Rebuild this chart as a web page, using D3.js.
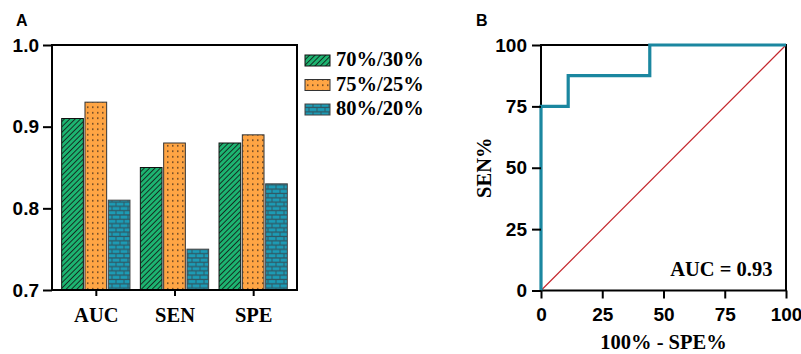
<!DOCTYPE html>
<html>
<head>
<meta charset="utf-8">
<script src="https://cdn.jsdelivr.net/npm/d3@7"></script>
<style>
  body { margin: 0; background: #fff; }
  svg { display: block; }
  .sans { font-family: "Liberation Sans", Arial, sans-serif; font-weight: bold; }
  .serif { font-family: "Liberation Serif", "Times New Roman", serif; font-weight: bold; }
</style>
</head>
<body>
<div id="chart"></div>
<script>
// panel A data
const categories = ['AUC', 'SEN', 'SPE'];
const splits = ['70%/30%', '75%/25%', '80%/20%'];
const values7030 = [0.91, 0.85, 0.88];
const values7525 = [0.93, 0.88, 0.89];
const values8020 = [0.81, 0.75, 0.83];
const yTicksA = [0.7, 0.8, 0.9, 1.0];

// panel B data (ROC curve, 100% - SPE% vs SEN%)
const rocFpr = [0, 0, 11.1, 11.1, 44.4, 44.4, 100];
const rocTpr = [0, 75, 75, 87.5, 87.5, 100, 100];
const ticksB = [0, 25, 50, 75, 100];
const aucText = 'AUC = 0.93';

const width = 801;
const height = 354;
const serifSize = 20.5;
const sansSize = 19;

const svg = d3.select('#chart').append('svg')
  .attr('width', width)
  .attr('height', height);

const defs = svg.append('defs');

// diagonal hatch (green)
const hatch = defs.append('pattern')
  .attr('id', 'hatch')
  .attr('patternUnits', 'userSpaceOnUse')
  .attr('width', 3.8).attr('height', 3.8)
  .attr('patternTransform', 'rotate(45)');
hatch.append('rect').attr('width', 3.8).attr('height', 3.8).attr('fill', '#1db471');
hatch.append('line').attr('x1', 0).attr('y1', 0).attr('x2', 0).attr('y2', 3.8)
  .attr('stroke', '#111').attr('stroke-width', 1.6);

// dots (orange)
const dots = defs.append('pattern')
  .attr('id', 'dots')
  .attr('patternUnits', 'userSpaceOnUse')
  .attr('width', 5).attr('height', 5.5);
dots.append('rect').attr('width', 5).attr('height', 5.5).attr('fill', '#ffa544');
dots.append('rect').attr('x', 2).attr('y', 2).attr('width', 1.5).attr('height', 1.5).attr('fill', '#5a3d22');

// bricks (blue)
const bricks = defs.append('pattern')
  .attr('id', 'bricks')
  .attr('patternUnits', 'userSpaceOnUse')
  .attr('width', 8).attr('height', 8.6);
bricks.append('rect').attr('width', 8).attr('height', 8.6).attr('fill', '#2f5a66');
bricks.append('rect').attr('x', 0.5).attr('y', 0.6).attr('width', 7).attr('height', 3).attr('fill', '#1c9cb6');
bricks.append('rect').attr('x', -3.5).attr('y', 4.9).attr('width', 7).attr('height', 3).attr('fill', '#1c9cb6');
bricks.append('rect').attr('x', 4.5).attr('y', 4.9).attr('width', 7).attr('height', 3).attr('fill', '#1c9cb6');

const fills = ['url(#hatch)', 'url(#dots)', 'url(#bricks)'];
const strokes = ['#111', '#333', '#444'];

// ---------- Panel A ----------
const ax = { left: 52, right: 297, top: 45, bottom: 290 };
const seriesA = [values7030, values7525, values8020];

const x0 = d3.scaleBand().domain(categories).range([ax.left, ax.right])
  .paddingInner(0.132).paddingOuter(0.123);
const x1 = d3.scaleBand().domain(splits).range([0, x0.bandwidth()]).paddingInner(0.07);
const yA = d3.scaleLinear().domain([0.7, 1.0]).range([ax.bottom, ax.top]);

const gA = svg.append('g');

categories.forEach((cat, ci) => {
  splits.forEach((s, si) => {
    const v = seriesA[si][ci];
    gA.append('rect')
      .attr('x', x0(cat) + x1(s))
      .attr('y', yA(v))
      .attr('width', x1.bandwidth())
      .attr('height', yA(0.7) - yA(v))
      .attr('fill', fills[si])
      .attr('stroke', strokes[si])
      .attr('stroke-width', 1);
  });
});

gA.append('rect')
  .attr('x', ax.left).attr('y', ax.top)
  .attr('width', ax.right - ax.left).attr('height', ax.bottom - ax.top)
  .attr('fill', 'none').attr('stroke', '#000').attr('stroke-width', 2);

const yAxisA = gA.append('g')
  .attr('transform', `translate(${ax.left},0)`)
  .call(d3.axisLeft(yA).tickValues(yTicksA).tickFormat(d3.format('.1f')).tickSize(9).tickPadding(4));
yAxisA.select('.domain').remove();
yAxisA.selectAll('.tick line').attr('stroke-width', 2);
yAxisA.selectAll('.tick text').attr('class', 'sans').attr('font-size', sansSize).attr('fill', '#000');

const xAxisA = gA.append('g')
  .attr('transform', `translate(0,${ax.bottom})`)
  .call(d3.axisBottom(d3.scalePoint().domain(categories)
    .range([x0(categories[0]) + x0.bandwidth() / 2, x0(categories[2]) + x0.bandwidth() / 2]))
    .tickSize(6).tickPadding(11));
xAxisA.select('.domain').remove();
xAxisA.selectAll('.tick line').attr('stroke-width', 2);
xAxisA.selectAll('.tick text').attr('class', 'serif').attr('font-size', serifSize).attr('fill', '#000');

svg.append('text').attr('class', 'sans').attr('x', 16).attr('y', 26)
  .attr('font-size', 16).text('A');

// legend
const legend = svg.append('g').attr('transform', 'translate(305,0)');
splits.forEach((s, i) => {
  const base = 66 + i * 24.5;
  legend.append('rect')
    .attr('x', 0).attr('y', base - 11)
    .attr('width', 25).attr('height', 11)
    .attr('fill', fills[i]).attr('stroke', strokes[i]).attr('stroke-width', 1);
  legend.append('text').attr('class', 'serif')
    .attr('x', 31).attr('y', base)
    .attr('font-size', serifSize).text(s);
});

// ---------- Panel B ----------
const bx = { left: 541, right: 786, top: 45, bottom: 290.5 };
const xB = d3.scaleLinear().domain([0, 100]).range([bx.left, bx.right]);
const yB = d3.scaleLinear().domain([0, 100]).range([bx.bottom, bx.top]);

const gB = svg.append('g');

gB.append('line')
  .attr('x1', xB(0)).attr('y1', yB(0))
  .attr('x2', xB(100)).attr('y2', yB(100))
  .attr('stroke', '#c4262c').attr('stroke-width', 1.2);

gB.append('rect')
  .attr('x', bx.left).attr('y', bx.top)
  .attr('width', bx.right - bx.left).attr('height', bx.bottom - bx.top)
  .attr('fill', 'none').attr('stroke', '#000').attr('stroke-width', 2);

const rocLine = d3.line()
  .x((d, i) => xB(rocFpr[i]))
  .y((d, i) => yB(rocTpr[i]));

gB.append('path')
  .attr('d', rocLine(rocFpr))
  .attr('fill', 'none')
  .attr('stroke', '#1b87a0')
  .attr('stroke-width', 3.2)
  .attr('stroke-linejoin', 'miter');

const yAxisB = gB.append('g')
  .attr('transform', `translate(${bx.left},0)`)
  .call(d3.axisLeft(yB).tickValues(ticksB).tickSize(9).tickPadding(5));
yAxisB.select('.domain').remove();
yAxisB.selectAll('.tick line').attr('stroke-width', 2);
yAxisB.selectAll('.tick text').attr('class', 'sans').attr('font-size', sansSize).attr('fill', '#000');

const xAxisB = gB.append('g')
  .attr('transform', `translate(0,${bx.bottom})`)
  .call(d3.axisBottom(xB).tickValues(ticksB).tickSize(8).tickPadding(9.5));
xAxisB.select('.domain').remove();
xAxisB.selectAll('.tick line').attr('stroke-width', 2);
xAxisB.selectAll('.tick text').attr('class', 'sans').attr('font-size', sansSize).attr('fill', '#000');

svg.append('text').attr('class', 'serif')
  .attr('x', 772.5).attr('y', 276)
  .attr('text-anchor', 'end').attr('font-size', serifSize).text(aucText);

svg.append('text').attr('class', 'serif')
  .attr('x', (bx.left + bx.right) / 2).attr('y', 349)
  .attr('text-anchor', 'middle').attr('font-size', serifSize).text('100% - SPE%');

svg.append('text').attr('class', 'serif')
  .attr('transform', `translate(491,${(bx.top + bx.bottom) / 2}) rotate(-90)`)
  .attr('text-anchor', 'middle').attr('font-size', serifSize).text('SEN%');

svg.append('text').attr('class', 'sans').attr('x', 476).attr('y', 26)
  .attr('font-size', 16).text('B');
</script>
</body>
</html>
